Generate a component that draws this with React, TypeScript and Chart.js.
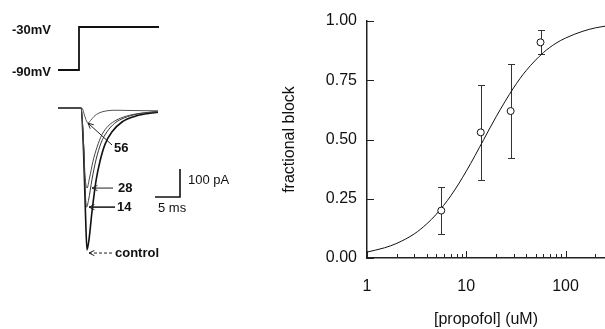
import React, { useEffect, useRef } from "react";
import { Chart, registerables } from "chart.js";

Chart.register(...registerables);

// ---------------- Right panel: concentration–response ----------------
const concentrations = [5.6, 14, 28, 56]; // uM
const meanBlock = [0.2, 0.53, 0.62, 0.91];
const errLow = [0.1, 0.33, 0.42, 0.86];
const errHigh = [0.3, 0.73, 0.82, 0.96];
const fitX = [1, 1.5, 2, 3, 4, 5, 7, 10, 15, 20, 30, 40, 60, 80, 100, 150, 200, 250];
const fitY = [0.025, 0.043, 0.062, 0.102, 0.144, 0.185, 0.263, 0.366, 0.5, 0.596, 0.718, 0.79, 0.867, 0.906, 0.928, 0.957, 0.971, 0.978];
const yTickValues = [0, 0.25, 0.5, 0.75, 1];
const xTickValues = [1, 2, 3, 4, 5, 6, 7, 8, 9, 10, 20, 30, 40, 50, 60, 70, 80, 90, 100, 200];
const xLabelValues = [1, 10, 100];

// ---------------- Left panel: voltage protocol and currents ----------------
const stepTime = [-4.8, -0.6, -0.6, 15.4]; // ms
const stepVoltage = [-90, -90, -30, -30]; // mV

const controlTime = [-4.8, -0.2, 0.3, 0.7, 1.0, 1.4, 2.0, 2.8, 3.6, 4.6, 6, 8, 10.5, 13, 15.2];
const controlCurrent = [0, 0, -150, -380, -507, -470, -370, -260, -190, -130, -85, -50, -30, -20, -15];
const c14Time = [-4.8, -0.2, 0.3, 0.6, 0.9, 1.3, 2.0, 2.8, 3.8, 5, 6.5, 8.5, 11, 15.2];
const c14Current = [0, 0, -130, -280, -354, -330, -255, -185, -125, -85, -55, -35, -22, -13];
const c28Time = [-4.8, -0.2, 0.3, 0.6, 1.0, 1.5, 2.2, 3, 4, 5.2, 7, 9.5, 12, 15.2];
const c28Current = [0, 0, -120, -240, -286, -250, -190, -140, -95, -65, -42, -26, -18, -12];
const c56Time = [-4.8, 0, 0.4, 0.8, 1.2, 1.7, 2.4, 3.4, 5, 7, 10, 15.2];
const c56Current = [0, 0, -20, -42, -54, -45, -30, -18, -10, -8, -9, -10];

const scaleBarMs = 5;
const scaleBarPA = 100;

const FONT = "'Liberation Sans', Arial, Helvetica, sans-serif";

// layout (data-unit positions of annotations on the left panel)
const scaleBarCorner = { t: 19.6, i: -318 };
const leftTexts = [
  { text: "-30mV", t: -14, i: 278, bold: true },
  { text: "-90mV", t: -14, i: 128, bold: true },
  { text: "56", t: 6.4, i: -143, bold: true },
  { text: "28", t: 7.2, i: -286, bold: true },
  { text: "14", t: 7.0, i: -354, bold: true },
  { text: "control", t: 6.6, i: -518, bold: true },
  { text: "100 pA", t: 21.2, i: -257, bold: false },
  { text: "5 ms", t: 15.2, i: -357, bold: false },
];
const leftArrows = [
  { from: [6.0, -132], to: [1.2, -54], dashed: false, width: 1 },
  { from: [6.2, -286], to: [2.0, -286], dashed: false, width: 1 },
  { from: [6.6, -354], to: [1.4, -354], dashed: false, width: 1.6 },
  { from: [6.0, -518], to: [1.4, -518], dashed: true, width: 1 },
];

const pts = (xs: number[], ys: number[]) => xs.map((x, k) => ({ x, y: ys[k] }));

const leftAnnotationPlugin = {
  id: "leftAnnotations",
  afterDatasetsDraw(chart: any) {
    const { ctx } = chart;
    const sx = chart.scales.x;
    const sy = chart.scales.y;
    ctx.save();
    ctx.fillStyle = "#111";
    ctx.textBaseline = "middle";
    ctx.textAlign = "left";
    leftTexts.forEach((a) => {
      ctx.font = `${a.bold ? "bold " : ""}13px ${FONT}`;
      ctx.fillText(a.text, sx.getPixelForValue(a.t), sy.getPixelForValue(a.i));
    });
    ctx.strokeStyle = "#222";
    leftArrows.forEach((a) => {
      const x1 = sx.getPixelForValue(a.from[0]);
      const y1 = sy.getPixelForValue(a.from[1]);
      const x2 = sx.getPixelForValue(a.to[0]);
      const y2 = sy.getPixelForValue(a.to[1]);
      ctx.lineWidth = a.width;
      ctx.setLineDash(a.dashed ? [3, 2] : []);
      ctx.beginPath();
      ctx.moveTo(x1, y1);
      ctx.lineTo(x2, y2);
      ctx.stroke();
      ctx.setLineDash([]);
      ctx.lineWidth = 1;
      const ang = Math.atan2(y2 - y1, x2 - x1);
      const len = 6;
      ctx.beginPath();
      ctx.moveTo(x2 - len * Math.cos(ang - 0.45), y2 - len * Math.sin(ang - 0.45));
      ctx.lineTo(x2, y2);
      ctx.lineTo(x2 - len * Math.cos(ang + 0.45), y2 - len * Math.sin(ang + 0.45));
      ctx.stroke();
    });
    ctx.restore();
  },
};

const errorBarPlugin = {
  id: "errorBars",
  beforeDatasetsDraw(chart: any) {
    const { ctx } = chart;
    const sx = chart.scales.x;
    const sy = chart.scales.y;
    ctx.save();
    ctx.strokeStyle = "#333";
    ctx.lineWidth = 1;
    concentrations.forEach((c, k) => {
      const px = Math.round(sx.getPixelForValue(c)) + 0.5;
      const yl = Math.round(sy.getPixelForValue(errLow[k])) + 0.5;
      const yh = Math.round(sy.getPixelForValue(errHigh[k])) + 0.5;
      ctx.beginPath();
      ctx.moveTo(px, yl);
      ctx.lineTo(px, yh);
      ctx.moveTo(px - 3.5, yl);
      ctx.lineTo(px + 3.5, yl);
      ctx.moveTo(px - 3.5, yh);
      ctx.lineTo(px + 3.5, yh);
      ctx.stroke();
    });
    ctx.restore();
  },
};

const innerTickPlugin = {
  id: "innerTicks",
  afterDraw(chart: any) {
    const { ctx, chartArea } = chart;
    const sx = chart.scales.x;
    const sy = chart.scales.y;
    ctx.save();
    ctx.strokeStyle = "#222";
    ctx.lineWidth = 1;
    ctx.beginPath();
    yTickValues.forEach((v) => {
      const py = Math.round(sy.getPixelForValue(v)) + 0.5;
      ctx.moveTo(chartArea.left, py);
      ctx.lineTo(chartArea.left + 7, py);
    });
    xTickValues.forEach((v) => {
      const px = Math.round(sx.getPixelForValue(v)) + 0.5;
      const len = xLabelValues.includes(v) ? 7 : 4;
      ctx.moveTo(px, chartArea.bottom);
      ctx.lineTo(px, chartArea.bottom - len);
    });
    ctx.stroke();
    ctx.restore();
  },
};

export default function App() {
  const leftRef = useRef<HTMLCanvasElement>(null);
  const rightRef = useRef<HTMLCanvasElement>(null);

  useEffect(() => {
    const lineDs = (data: any[], color: string, width: number, extra: any = {}) => ({
      data,
      showLine: true,
      borderColor: color,
      borderWidth: width,
      pointRadius: 0,
      fill: false,
      ...extra,
    });

    const left = new Chart(leftRef.current!, {
      type: "scatter",
      data: {
        datasets: [
          lineDs(pts(stepTime, stepVoltage), "#111", 1.8, { yAxisID: "yV" }),
          lineDs(pts(c56Time, c56Current), "#555", 1, { cubicInterpolationMode: "monotone" }),
          lineDs(pts(c28Time, c28Current), "#444", 1, { cubicInterpolationMode: "monotone" }),
          lineDs(pts(c14Time, c14Current), "#333", 1, { cubicInterpolationMode: "monotone" }),
          lineDs(pts(controlTime, controlCurrent), "#111", 1.6, { cubicInterpolationMode: "monotone" }),
          lineDs(
            [
              { x: scaleBarCorner.t - scaleBarMs, y: scaleBarCorner.i },
              { x: scaleBarCorner.t, y: scaleBarCorner.i },
              { x: scaleBarCorner.t, y: scaleBarCorner.i + scaleBarPA },
            ],
            "#111",
            1.6
          ),
        ],
      },
      options: {
        animation: false,
        responsive: false,
        devicePixelRatio: 1,
        events: [],
        layout: { padding: 0, autoPadding: false },
        plugins: { legend: { display: false }, tooltip: { enabled: false } },
        scales: {
          x: { type: "linear", display: false, min: -16.4, max: 33.6 },
          y: { type: "linear", display: false, min: -789.3, max: 385.7 },
          yV: { type: "linear", display: false, min: -451.4, max: 7.67 },
        },
      },
      plugins: [leftAnnotationPlugin],
    } as any);

    const right = new Chart(rightRef.current!, {
      type: "scatter",
      data: {
        datasets: [
          {
            label: "fit",
            data: pts(fitX, fitY),
            showLine: true,
            borderColor: "#111",
            borderWidth: 1,
            pointRadius: 0,
            cubicInterpolationMode: "monotone",
            order: 2,
          },
          {
            label: "mean",
            data: pts(concentrations, meanBlock),
            showLine: false,
            pointRadius: 3.5,
            pointBackgroundColor: "#fff",
            pointBorderColor: "#111",
            pointBorderWidth: 1,
            order: 1,
          },
        ],
      },
      options: {
        animation: false,
        responsive: false,
        devicePixelRatio: 1,
        events: [],
        layout: { padding: { top: 21, right: 0, bottom: 0, left: 0 }, autoPadding: false },
        plugins: { legend: { display: false }, tooltip: { enabled: false } },
        scales: {
          x: {
            type: "logarithmic",
            position: "bottom",
            min: 1,
            max: 250,
            grid: { display: false, drawTicks: true, tickLength: 19 },
            border: { display: true, color: "#222", width: 1.5 },
            afterBuildTicks: (s: any) => {
              s.ticks = xTickValues.map((v) => ({ value: v }));
            },
            afterFit: (s: any) => {
              s.height = 71;
            },
            ticks: {
              autoSkip: false,
              maxRotation: 0,
              minRotation: 0,
              padding: 0,
              color: "#111",
              font: { family: FONT, size: 16 },
              callback: (v: any) => (xLabelValues.includes(Number(v)) ? String(v) : ""),
            },
            title: {
              display: true,
              text: "[propofol] (uM)",
              color: "#111",
              font: { family: FONT, size: 16 },
              padding: { top: 0, bottom: 0 },
            },
          },
          y: {
            type: "linear",
            position: "left",
            min: 0,
            max: 1,
            grid: { display: false, drawTicks: false },
            border: { display: true, color: "#222", width: 1.5 },
            afterFit: (s: any) => {
              s.width = 117;
            },
            ticks: {
              stepSize: 0.25,
              padding: 10,
              color: "#111",
              font: { family: FONT, size: 16 },
              callback: (v: any) => Number(v).toFixed(2),
            },
            title: {
              display: true,
              text: "fractional block",
              color: "#111",
              font: { family: FONT, size: 16 },
              padding: { top: 30, bottom: 0 },
            },
          },
        },
      },
      plugins: [errorBarPlugin, innerTickPlugin],
    } as any);

    return () => {
      left.destroy();
      right.destroy();
    };
  }, []);

  return (
    <div
      style={{
        position: "fixed",
        left: 0,
        top: 0,
        width: 605,
        height: 329,
        background: "#fff",
        overflow: "hidden",
      }}
    >
      <canvas ref={leftRef} width={250} height={329} style={{ position: "absolute", left: 0, top: 0 }} />
      <canvas ref={rightRef} width={355} height={329} style={{ position: "absolute", left: 250, top: 0 }} />
    </div>
  );
}
